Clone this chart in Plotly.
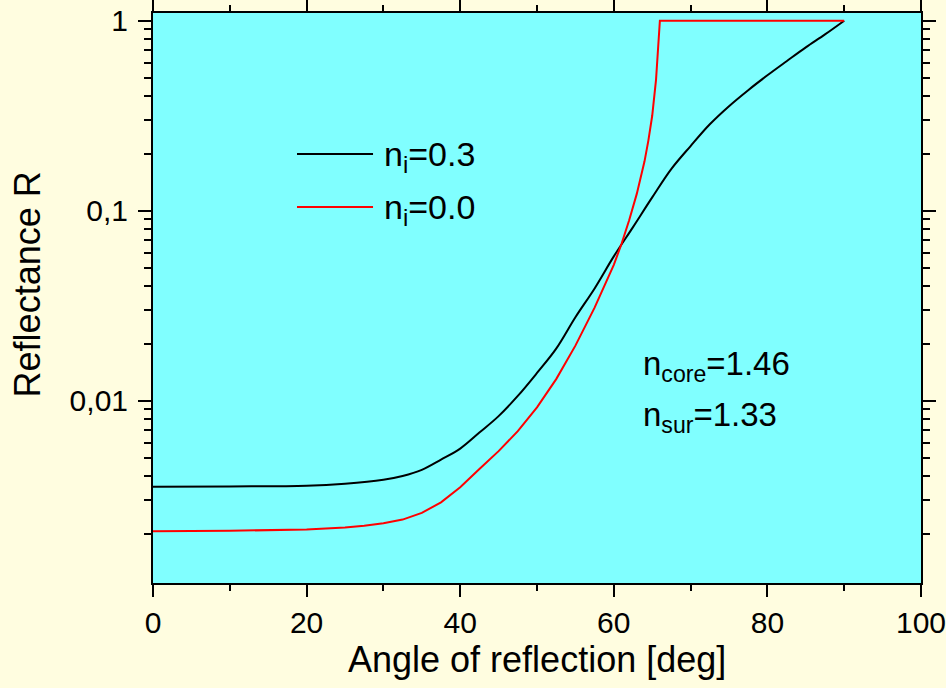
import plotly.graph_objects as go

# ---- data ----
angle_ni03 = [0, 10, 20, 25, 30, 32.5, 35, 37.5, 40, 42.5, 45, 47.5, 50, 52.5, 55, 57.5, 60,
              62.5, 65, 67.5, 70, 72.5, 75, 77.5, 80, 82.5, 85, 87.5, 90]
refl_ni03 = [0.00353, 0.00354, 0.00357, 0.00366, 0.00384, 0.00402, 0.00433, 0.0049,
             0.0056, 0.0068, 0.0083, 0.0106, 0.0140, 0.0188, 0.0275, 0.039, 0.0575,
             0.082, 0.1175, 0.166, 0.219, 0.285, 0.355, 0.431, 0.516, 0.612, 0.724,
             0.847, 1.0]

angle_ni00 = [0, 10, 20, 25, 27.5, 30, 32.5, 35, 37.5, 40, 42.5, 45, 47.5, 50, 52.5, 55,
              57.5, 60, 61, 62, 63, 64, 64.5, 65, 65.5, 65.8, 66, 90]
refl_ni00 = [0.00206, 0.00207, 0.00210, 0.00215, 0.00220, 0.00227, 0.00237, 0.00257,
             0.00292, 0.00351, 0.00437, 0.00543, 0.00692, 0.00923, 0.0130, 0.0195,
             0.0309, 0.0519, 0.0668, 0.0891, 0.123, 0.182, 0.234, 0.316, 0.490, 0.724,
             1.0, 1.0]

series_names = ["n<sub>i</sub>=0.3", "n<sub>i</sub>=0.0"]
series_colors = ["#000000", "#FF0000"]
series_shapes = ["spline", "linear"]

x_ticks = [0, 20, 40, 60, 80, 100]
x_minor = [10, 30, 50, 70, 90]
y_ticks = [0.01, 0.1, 1]
y_ticktext = ["0,01", "0,1", "1"]
y_minor = [m * d for d in (0.001, 0.01, 0.1) for m in range(2, 10)]

fig = go.Figure()
for xs, ys, name, col, shp in [
        (angle_ni03, refl_ni03, series_names[0], series_colors[0], series_shapes[0]),
        (angle_ni00, refl_ni00, series_names[1], series_colors[1], series_shapes[1])]:
    fig.add_trace(go.Scatter(x=xs, y=ys, mode="lines", name=name,
                             line=dict(color=col, width=2, shape=shp),
                             showlegend=False))

font_main = "Liberation Sans, Arial, sans-serif"

fig.update_layout(
    width=946, height=688,
    margin=dict(l=153, r=25, t=13, b=105),
    paper_bgcolor="#FFFDE0",
    plot_bgcolor="#80FFFF",
    font=dict(family=font_main, color="#000000"),
    xaxis=dict(range=[0, 100], tickvals=x_ticks, ticks="outside", ticklen=12, tickwidth=2,
               tickcolor="#000", showline=True, linewidth=2, linecolor="#000",
               mirror="allticks", showgrid=False, zeroline=False, automargin=False,
               ticklabeloverflow="allow",
               tickfont=dict(size=30, family=font_main),
               minor=dict(tickvals=x_minor, ticks="outside", ticklen=6, tickwidth=2,
                          tickcolor="#000", showgrid=False)),
    yaxis=dict(type="log", range=[-2.959, 0.0405], tickvals=y_ticks, ticktext=y_ticktext,
               ticks="outside", ticklen=13, tickwidth=2, tickcolor="#000",
               showline=True, linewidth=2, linecolor="#000", mirror="allticks",
               showgrid=False, zeroline=False, ticklabelstandoff=4, automargin=False,
               ticklabeloverflow="allow",
               tickfont=dict(size=30, family=font_main),
               minor=dict(tickvals=y_minor, ticks="outside", ticklen=7, tickwidth=2,
                          tickcolor="#000", showgrid=False)),
)

# axis titles
fig.add_annotation(text="Angle of reflection [deg]", xref="paper", yref="paper",
                   x=0.5, y=-0.135, xanchor="center", yanchor="middle",
                   showarrow=False, font=dict(size=36, family=font_main))
fig.add_annotation(text="Reflectance R", xref="paper", yref="paper",
                   x=-0.1634, y=0.523, xanchor="center", yanchor="middle",
                   textangle=-90, showarrow=False, font=dict(size=36, family=font_main))

# legend (manual, matching the long sample lines)
leg_y = [0.7526, 0.6596]
for name, col, yy in zip(series_names, series_colors, leg_y):
    fig.add_shape(type="line", xref="paper", yref="paper", x0=0.1875, x1=0.2865,
                  y0=yy, y1=yy, line=dict(color=col, width=2))
    fig.add_annotation(text=name, xref="paper", yref="paper", x=0.298, y=yy - 0.004,
                       xanchor="left", yanchor="middle", showarrow=False,
                       font=dict(size=34, family=font_main))

# refractive index notes
fig.add_annotation(text="n<sub>core</sub>=1.46", xref="paper", yref="paper",
                   x=0.636, y=0.381, xanchor="left", yanchor="middle", showarrow=False,
                   font=dict(size=33, family=font_main))
fig.add_annotation(text="n<sub>sur</sub>=1.33", xref="paper", yref="paper",
                   x=0.636, y=0.292, xanchor="left", yanchor="middle", showarrow=False,
                   font=dict(size=33, family=font_main))

fig.write_html(
    "out.html",
    config={"displayModeBar": False},
    post_script="document.body.style.margin='0';"
                "document.body.style.background='#FFFDE0';",
)
